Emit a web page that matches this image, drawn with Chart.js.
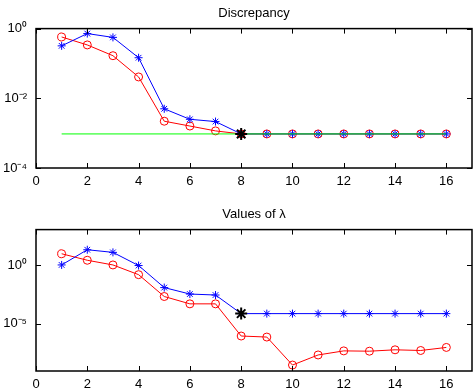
<!DOCTYPE html>
<html>
<head>
<meta charset="utf-8">
<script src="https://cdn.jsdelivr.net/npm/chart.js@4.4.0/dist/chart.umd.min.js"></script>
<style>
html,body{margin:0;padding:0;background:#fff;overflow:hidden;width:474px;height:389px;}
.box{position:absolute;left:0;width:480px;}
#topBox{top:0;height:201px;}
#botBox{top:201px;height:188px;}
</style>
</head>
<body>
<div class="box" id="topBox"><canvas id="discChart"></canvas></div>
<div class="box" id="botBox"><canvas id="lamChart"></canvas></div>
<script>
// -------- data --------
const iterations = [1,2,3,4,5,6,7,8,9,10,11,12,13,14,15,16];
const discBlue = [0.32,0.72,0.56,0.146,0.005,0.0025,0.00215,0.00095,0.00095,0.00095,0.00095,0.00095,0.00095,0.00095,0.00095,0.00095];
const discRed  = [0.575,0.34,0.167,0.041,0.0022,0.0016,0.00116,0.00095,0.00095,0.00095,0.00095,0.00095,0.00095,0.00095,0.00095,0.00095];
const tolLevel = 0.00095;
const lamBlue = [1.0,19.5,11.7,0.89,0.012,0.0034,0.0028,7.4e-5,7.4e-5,7.4e-5,7.4e-5,7.4e-5,7.4e-5,7.4e-5,7.4e-5,7.4e-5];
const lamRed  = [8.9,2.5,1.0,0.15,0.0021,5e-4,5e-4,9.3e-7,7.6e-7,3.2e-9,2.3e-8,5.1e-8,4.8e-8,6.3e-8,5.5e-8,1e-7];
const stopIter = 8;

const xTicks = [0,2,4,6,8,10,12,14,16];
const discTicks = [1e-4,1e-2,1];
const discTickLabels = ['10\u207B\u2074','10\u207B\u00B2','10\u2070'];
const lamTicks = [1e-5,1];
const lamTickLabels = ['10\u207B\u2075','10\u2070'];

Chart.defaults.font.family = '"Liberation Sans", Arial, Helvetica, sans-serif';
Chart.defaults.font.size = 13;
Chart.defaults.color = '#000';

// MATLAB-style box with inward ticks on all four sides
const boxPlugin = {
    id:'boxTicks',
    afterDraw(chart){
        const {ctx, chartArea:a, scales:{x,y}} = chart;
        const tl = 5;
        ctx.save();
        ctx.strokeStyle = '#000';
        ctx.lineWidth = 1;
        ctx.beginPath();
        x.ticks.forEach(t=>{
            const px = Math.round(x.getPixelForValue(t.value))+0.5;
            ctx.moveTo(px,a.bottom); ctx.lineTo(px,a.bottom-tl);
            ctx.moveTo(px,a.top); ctx.lineTo(px,a.top+tl);
        });
        y.ticks.forEach(t=>{
            const py = Math.round(y.getPixelForValue(t.value))+0.5;
            ctx.moveTo(a.left,py); ctx.lineTo(a.left+tl,py);
            ctx.moveTo(a.right,py); ctx.lineTo(a.right-tl,py);
        });
        ctx.stroke();
        ctx.lineWidth = 1.5;
        ctx.strokeRect(a.left,a.top,a.right-a.left,a.bottom-a.top);
        ctx.restore();
    }
};

function pts(vals){ return iterations.map((k,i)=>({x:k,y:vals[i]})); }

function makeChart(id, title, blue, red, yMin, yMax, yTicks, yLabels, xAxisH, withTol){
    const datasets = [
        {data:[{x:stopIter,y:blue[stopIter-1]}], showLine:false, pointStyle:'star', pointRadius:6,
         pointBorderWidth:2, borderColor:'#000', backgroundColor:'#000', order:0},
        {data:pts(blue), borderColor:'#0000ff', borderWidth:1, pointStyle:'star', pointRadius:4,
         pointBorderWidth:1, pointBorderColor:'#0000ff', pointBackgroundColor:'rgba(0,0,0,0)', order:2},
        {data:pts(red), borderColor:'#ff0000', borderWidth:1, pointStyle:'circle', pointRadius:4,
         pointBorderWidth:1, pointBorderColor:'#ff0000', pointBackgroundColor:'rgba(0,0,0,0)', order:3}
    ];
    if(withTol){
        datasets.push({data:[{x:iterations[0],y:tolLevel},{x:iterations[iterations.length-1],y:tolLevel}],
            borderColor:'#00ff00', borderWidth:1, pointRadius:0, order:1});
    }
    return new Chart(document.getElementById(id),{
        type:'line',
        data:{datasets},
        options:{
            responsive:true, maintainAspectRatio:false, animation:false,
            layout:{padding:{left:0,right:4,top:0,bottom:0}},
            elements:{line:{tension:0}},
            plugins:{
                legend:{display:false}, tooltip:{enabled:false},
                title:{display:true, fullSize:false, text:title, font:{size:13, weight:'normal'}, color:'#000',
                       padding:{top:6,bottom:7}}
            },
            scales:{
                x:{type:'linear', min:0, max:17,
                   afterBuildTicks:s=>{ s.ticks = xTicks.map(v=>({value:v})); },
                   afterFit:s=>{ s.height = xAxisH; },
                   grid:{display:false, drawTicks:false, tickLength:0}, border:{display:false},
                   ticks:{padding:6, maxRotation:0, autoSkip:false, color:'#000'}},
                y:{type:'logarithmic', min:yMin, max:yMax,
                   afterBuildTicks:s=>{ s.ticks = yTicks.map(v=>({value:v})); },
                   afterFit:s=>{ s.width = 36; },
                   grid:{display:false, drawTicks:false, tickLength:0}, border:{display:false},
                   ticks:{padding:9, color:'#000', callback:(v,i)=>yLabels[i]}}
            }
        },
        plugins:[boxPlugin]
    });
}

makeChart('discChart','Discrepancy',discBlue,discRed,1e-4,1,discTicks,discTickLabels,33,true);
makeChart('lamChart','Values of \u03BB',lamBlue,lamRed,1e-9,1e3,lamTicks,lamTickLabels,18,false);
</script>
</body>
</html>
